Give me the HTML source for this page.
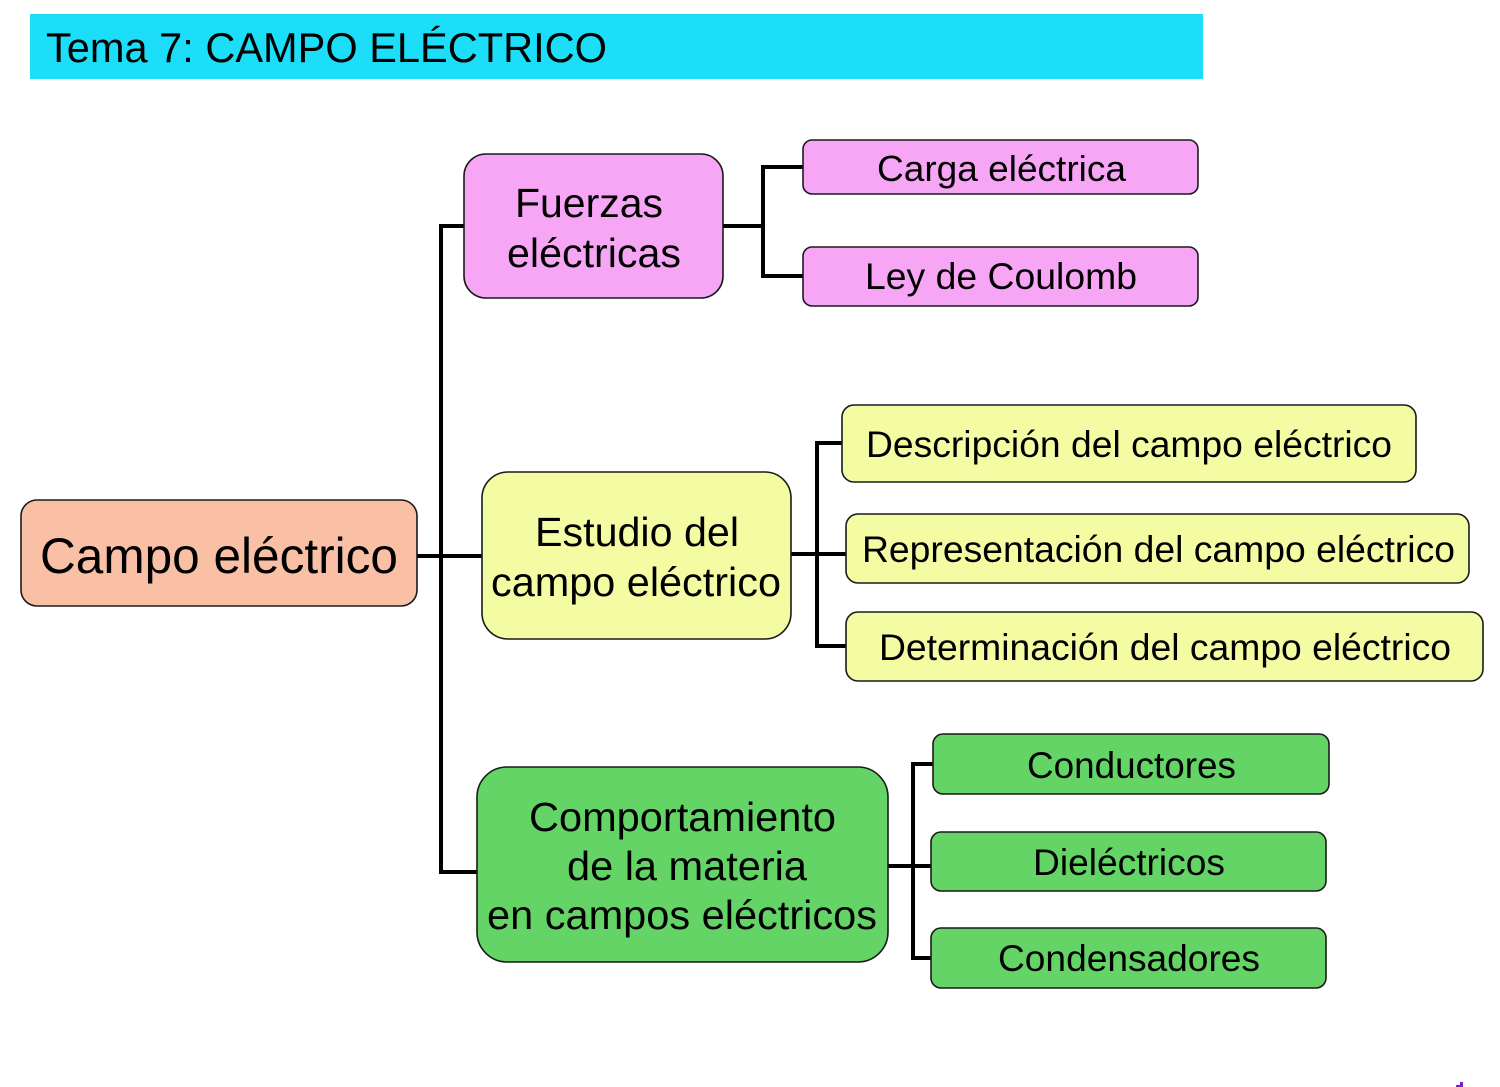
<!DOCTYPE html>
<html><head><meta charset="utf-8">
<style>
html,body{margin:0;padding:0;background:#fff;}
svg{display:block;}
text{font-family:"Liberation Sans",Arial,sans-serif;fill:#000;}
</style></head>
<body>
<svg width="1500" height="1087" viewBox="0 0 1500 1087" xmlns="http://www.w3.org/2000/svg">
<rect x="0" y="0" width="1500" height="1087" fill="#fff"/>
<!-- title bar -->
<rect x="30" y="14" width="1173" height="65" fill="#1CDEF9"/>
<text x="46" y="62" font-size="42" textLength="561" lengthAdjust="spacingAndGlyphs">Tema 7: CAMPO ELÉCTRICO</text>

<!-- connectors -->
<g stroke="#000" stroke-width="4" fill="none" stroke-linecap="square">
  <polyline points="464,226 441,226 441,872 477,872"/>
  <line x1="417" y1="556" x2="482" y2="556"/>
  <line x1="723" y1="226" x2="763" y2="226"/>
  <polyline points="803,167 763,167 763,276 803,276"/>
  <line x1="791" y1="554" x2="846" y2="554"/>
  <polyline points="842,443 817,443 817,646 846,646"/>
  <line x1="888" y1="866" x2="931" y2="866"/>
  <polyline points="933,764 913,764 913,958 931,958"/>
</g>

<!-- boxes -->
<g stroke="#1a1a1a" stroke-width="1.6">
  <rect x="21" y="500" width="396" height="106" rx="16" fill="#F9C0A6"/>
  <rect x="464" y="154" width="259" height="144" rx="22" fill="#F7A6F5"/>
  <rect x="803" y="140" width="395" height="54" rx="9" fill="#F7A6F5"/>
  <rect x="803" y="247" width="395" height="59" rx="9" fill="#F7A6F5"/>
  <rect x="482" y="472" width="309" height="167" rx="26" fill="#F3FCA2"/>
  <rect x="842" y="405" width="574" height="77" rx="12" fill="#F3FCA2"/>
  <rect x="846" y="514" width="623" height="69" rx="12" fill="#F3FCA2"/>
  <rect x="846" y="612" width="637" height="69" rx="12" fill="#F3FCA2"/>
  <rect x="477" y="767" width="411" height="195" rx="30" fill="#63D465"/>
  <rect x="933" y="734" width="396" height="60" rx="10" fill="#63D465"/>
  <rect x="931" y="832" width="395" height="59" rx="10" fill="#63D465"/>
  <rect x="931" y="928" width="395" height="60" rx="10" fill="#63D465"/>
</g>

<!-- labels -->
<text x="40" y="573" font-size="50" textLength="358" lengthAdjust="spacingAndGlyphs">Campo eléctrico</text>

<text x="515" y="217" font-size="41" textLength="148" lengthAdjust="spacingAndGlyphs">Fuerzas</text>
<text x="507" y="267" font-size="41" textLength="174" lengthAdjust="spacingAndGlyphs">eléctricas</text>

<text x="877" y="181" font-size="36" textLength="249" lengthAdjust="spacingAndGlyphs">Carga eléctrica</text>
<text x="865" y="289" font-size="37" textLength="272" lengthAdjust="spacingAndGlyphs">Ley de Coulomb</text>

<text x="535" y="546" font-size="41" textLength="204" lengthAdjust="spacingAndGlyphs">Estudio del</text>
<text x="491" y="596" font-size="41" textLength="290" lengthAdjust="spacingAndGlyphs">campo eléctrico</text>

<text x="866" y="457" font-size="37" textLength="526" lengthAdjust="spacingAndGlyphs">Descripción del campo eléctrico</text>
<text x="862" y="562" font-size="37" textLength="593" lengthAdjust="spacingAndGlyphs">Representación del campo eléctrico</text>
<text x="879" y="660" font-size="37" textLength="572" lengthAdjust="spacingAndGlyphs">Determinación del campo eléctrico</text>

<text x="529" y="831" font-size="41" textLength="307" lengthAdjust="spacingAndGlyphs">Comportamiento</text>
<text x="567" y="880" font-size="41" textLength="240" lengthAdjust="spacingAndGlyphs">de la materia</text>
<text x="487" y="929" font-size="41" textLength="390" lengthAdjust="spacingAndGlyphs">en campos eléctricos</text>

<text x="1027" y="778" font-size="37" textLength="209" lengthAdjust="spacingAndGlyphs">Conductores</text>
<text x="1033" y="875" font-size="37" textLength="192" lengthAdjust="spacingAndGlyphs">Dieléctricos</text>
<text x="998" y="971" font-size="37" textLength="262" lengthAdjust="spacingAndGlyphs">Condensadores</text>

<!-- tiny purple mark bottom right -->
<rect x="1460" y="1082" width="3" height="5" fill="#7A1FD6"/>
<rect x="1456" y="1085" width="5" height="2" fill="#7A1FD6"/>
</svg>
</body></html>
